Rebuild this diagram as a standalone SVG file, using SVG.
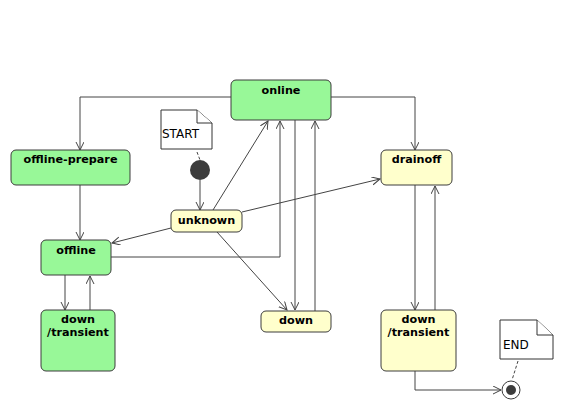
<svg xmlns="http://www.w3.org/2000/svg" width="562" height="410" viewBox="0 0 562 410">
<style>
.g{fill:#98f898;stroke:#3c3c3c;stroke-width:1}
.y{fill:#ffffcc;stroke:#3c3c3c;stroke-width:1}
.t{font-family:"DejaVu Sans",sans-serif;font-weight:bold;font-size:11.2px;fill:#000;text-anchor:middle}
.n{font-family:"DejaVu Sans",sans-serif;font-size:12px;fill:#000}
.note{fill:#fff;stroke:#333;stroke-width:1}
.c{fill:none;stroke:#444;stroke-width:1}
.a{fill:none;stroke:#444;stroke-width:1;marker-end:url(#arr)}
</style>
<defs>
<marker id="arr" markerWidth="10" markerHeight="10" refX="8" refY="4" orient="auto" markerUnits="userSpaceOnUse">
<path d="M0,0 L8,4 L0,8" fill="none" stroke="#444" stroke-width="1"/>
</marker>
</defs>
<rect width="562" height="410" fill="#fff"/>
<g id="connectors">
<path class="a" d="M231,97 H80 V150"/>
<path class="a" d="M331,97 H415 V150"/>
<path class="a" d="M80,185 V240"/>
<path class="a" d="M171,228 L112,243"/>
<path class="a" d="M213,210 L268,121"/>
<path class="a" d="M242,212 L380,179"/>
<path class="a" d="M217,232 L287,310"/>
<path class="a" d="M111,257 H280 V121"/>
<path class="a" d="M295,120 V310"/>
<path class="a" d="M315,311 V121"/>
<path class="a" d="M415,185 V310"/>
<path class="a" d="M435,310 V186"/>
<path class="a" d="M65,275 V310"/>
<path class="a" d="M90,310 V276"/>
<path class="a" d="M415,371 V390 H501"/>
<path class="a" d="M200,180 V210"/>
<path class="c" d="M197,152 L200,160" stroke-dasharray="3,2"/>
<path class="c" d="M518,361 L512,380" stroke-dasharray="3,2"/>
</g>
<g id="start-note">
<path class="note" d="M161,110 H197 L212,123 V149 H161 Z"/>
<path class="note" d="M197,110 V123 H212" fill="none"/>
<text class="n" x="162" y="138">START</text>
</g>
<g id="start">
<circle cx="200" cy="170" r="10" fill="#3c3c3c"/>
</g>
<g id="online">
<rect class="g" x="231" y="80" width="100" height="40" rx="5"/>
<text class="t" x="281" y="94">online</text>
</g>
<g id="offline-prepare">
<rect class="g" x="11" y="150" width="119" height="35" rx="5"/>
<text class="t" x="70.5" y="163">offline-prepare</text>
</g>
<g id="drainoff">
<rect class="y" x="381" y="150" width="71" height="35" rx="5"/>
<text class="t" x="416.5" y="163">drainoff</text>
</g>
<g id="unknown">
<rect class="y" x="171" y="210" width="71" height="22" rx="5"/>
<text class="t" x="206.5" y="224">unknown</text>
</g>
<g id="offline">
<rect class="g" x="41" y="240" width="70" height="35" rx="5"/>
<text class="t" x="76" y="254">offline</text>
</g>
<g id="down-transient-left">
<rect class="g" x="41" y="310" width="74" height="61" rx="5"/>
<text class="t" x="78" y="323">down</text>
<text class="t" x="78" y="336">/transient</text>
</g>
<g id="down">
<rect class="y" x="261" y="311" width="70" height="21" rx="5"/>
<text class="t" x="296" y="324">down</text>
</g>
<g id="down-transient-right">
<rect class="y" x="381" y="310" width="75" height="61" rx="5"/>
<text class="t" x="418.5" y="323">down</text>
<text class="t" x="418.5" y="336">/transient</text>
</g>
<g id="end-note">
<path class="note" d="M500,320 H537 L553,335 V359 H500 Z"/>
<path class="note" d="M537,320 V335 H553" fill="none"/>
<text class="n" x="503" y="349">END</text>
</g>
<g id="end">
<circle cx="511" cy="390" r="9" fill="#fff" stroke="#3c3c3c" stroke-width="1"/>
<circle cx="511" cy="390" r="5" fill="#3c3c3c"/>
</g>
</svg>
